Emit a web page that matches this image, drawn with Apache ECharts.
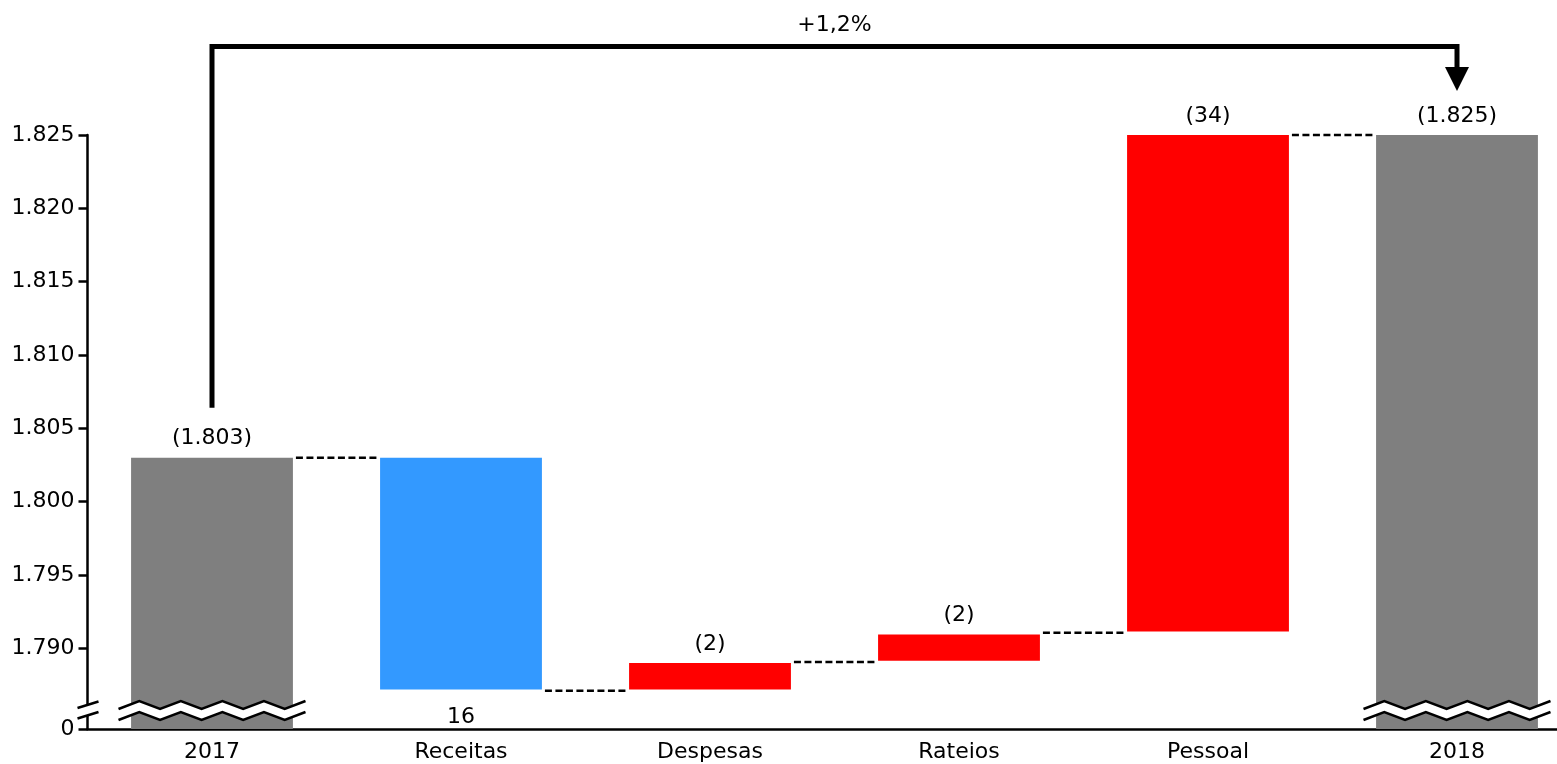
<!DOCTYPE html>
<html>
<head>
<meta charset="utf-8">
<title>Variação 2017 - 2018</title>
<script src="https://cdn.jsdelivr.net/npm/echarts@6/dist/echarts.min.js"></script>
<style>
  html, body { margin: 0; padding: 0; background: #fff; }
  #chartmain { width: 1557px; height: 764px; }
</style>
</head>
<body>
<div id="chartmain"></div>
<script>
// dados (milhares)
var categories = ['2017', 'Receitas', 'Despesas', 'Rateios', 'Pessoal', '2018'];
var barBottom = [0, 1787.2, 1787.2, 1789.15, 1791.15, 0];   // base de cada barra (0 = desde o eixo)
var barTop = [1803, 1803, 1789.0, 1790.95, 1825, 1825];     // topo de cada barra
var barLabels = ['(1.803)', '16', '(2)', '(2)', '(34)', '(1.825)'];
var connectorLevels = [1803, 1787.1, 1789.07, 1791.07, 1825]; // tracejado entre barra i e i+1
var yTicks = [1790, 1795, 1800, 1805, 1810, 1815, 1820, 1825];
var axisFloor = 1784.5; // onde o eixo mostra "0" (eixo quebrado)
var changeLabel = '+1,2%';

// estilo
var barColors = ['#7f7f7f', '#3399ff', '#ff0000', '#ff0000', '#ff0000', '#7f7f7f'];
var labelBelow = [false, true, false, false, false, false];
var FONT = 'DejaVu Sans';
var FONT_SIZE = 22;
var BAR_RATIO = 0.65;

function fmtNum(v) {
    return String(v).replace(/\B(?=(\d{3})+(?!\d))/g, '.');
}

var chart = echarts.init(document.getElementById('chartmain'));

var helperData = barBottom.slice();
var visibleData = barTop.map(function (t, i) {
    return {
        value: t - barBottom[i],
        itemStyle: { color: barColors[i] },
        label: {
            show: true,
            position: labelBelow[i] ? 'bottom' : 'top',
            distance: labelBelow[i] ? 17 : 8,
            formatter: barLabels[i]
        }
    };
});

chart.setOption({
    backgroundColor: '#fff',
    animation: false,
    grid: { left: 87.5, top: 135, width: 1494, bottom: 35, outerBoundsMode: 'none', containLabel: false },
    xAxis: {
        type: 'category',
        data: categories,
        axisLine: { lineStyle: { color: '#000', width: 2.5 } },
        axisTick: { show: false },
        axisLabel: { color: '#000', fontFamily: FONT, fontSize: FONT_SIZE, margin: 12 }
    },
    yAxis: {
        type: 'value',
        min: axisFloor,
        max: 1825,
        splitLine: { show: false },
        axisLine: { show: true, lineStyle: { color: '#000', width: 2.5 } },
        axisTick: {
            show: true, length: 9, customValues: [axisFloor].concat(yTicks),
            lineStyle: { color: '#000', width: 2.5 }
        },
        axisLabel: {
            color: '#000', fontFamily: FONT, fontSize: FONT_SIZE, margin: 13,
            customValues: [axisFloor].concat(yTicks),
            formatter: function (v) { return v === axisFloor ? '0' : fmtNum(v); }
        }
    },
    series: [
        {
            name: 'base',
            type: 'bar',
            stack: 'wf',
            barWidth: (BAR_RATIO * 100) + '%',
            itemStyle: { color: 'transparent' },
            silent: true,
            data: helperData
        },
        {
            name: 'valor',
            type: 'bar',
            stack: 'wf',
            barWidth: (BAR_RATIO * 100) + '%',
            clip: true,
            label: { color: '#000', fontFamily: FONT, fontSize: FONT_SIZE },
            data: visibleData
        },
        {
            name: 'ligacao',
            type: 'custom',
            silent: true,
            data: connectorLevels.map(function (v, i) { return [i, v]; }),
            renderItem: function (params, api) {
                var p = api.coord([api.value(0), api.value(1)]);
                var band = api.size([1, 0])[0];
                var half = band * BAR_RATIO / 2;
                return {
                    type: 'line',
                    shape: { x1: p[0] + half + 3, y1: p[1], x2: p[0] + band - half - 3, y2: p[1] },
                    style: { stroke: '#000', lineWidth: 2.5, lineDash: [7, 3.5] }
                };
            }
        }
    ]
});

// seta de variação e marcas de quebra do eixo
function zigzag(cx, cy, halfW, amp, segs) {
    var pts = [];
    for (var k = 0; k <= segs; k++) {
        pts.push([cx - halfW + k * (2 * halfW / segs), cy + (k % 2 === 0 ? amp : -amp)]);
    }
    return pts;
}

function drawDecor() {
    var first = 0, last = categories.length - 1;
    var p0 = chart.convertToPixel({ gridIndex: 0 }, [first, barTop[first]]);
    var p1 = chart.convertToPixel({ gridIndex: 0 }, [last, barTop[last]]);
    var yFloor = chart.convertToPixel({ yAxisIndex: 0 }, axisFloor);
    var band = chart.convertToPixel({ xAxisIndex: 0 }, categories[1]) - p0[0];
    var ax = p0[0] - band / 2;
    var topY = 46.5;
    var els = [];

    els.push({
        type: 'polyline', z: 100,
        shape: { points: [[p0[0], p0[1] - 50], [p0[0], topY], [p1[0], topY], [p1[0], p1[1] - 66]] },
        style: { stroke: '#000', lineWidth: 5, fill: null, lineJoin: 'miter' }
    });
    els.push({
        type: 'polygon', z: 100,
        shape: { points: [[p1[0] - 12, p1[1] - 68], [p1[0] + 12, p1[1] - 68], [p1[0], p1[1] - 44]] },
        style: { fill: '#000' }
    });
    els.push({
        type: 'text', z: 100,
        x: (p0[0] + p1[0]) / 2, y: 25,
        style: { text: changeLabel, fill: '#000', font: FONT_SIZE + 'px "' + FONT + '"', align: 'center', verticalAlign: 'middle' }
    });

    // quebras nas barras de total
    [first, last].forEach(function (i) {
        var cx = chart.convertToPixel({ xAxisIndex: 0 }, categories[i]);
        var cy = yFloor - 18.5;
        var up = zigzag(cx, cy - 5.5, 93.5, 4, 9);
        var lo = zigzag(cx, cy + 5.5, 93.5, 4, 9);
        els.push({
            type: 'polygon', z: 100,
            shape: { points: up.concat(lo.slice().reverse()) },
            style: { fill: '#fff' }
        });
        els.push({ type: 'polyline', z: 101, shape: { points: up }, style: { stroke: '#000', lineWidth: 2.5, fill: null } });
        els.push({ type: 'polyline', z: 101, shape: { points: lo }, style: { stroke: '#000', lineWidth: 2.5, fill: null } });
    });

    // quebra no eixo y
    var u1 = [ax - 10, yFloor - 21], u2 = [ax + 11, yFloor - 27.5];
    var l1 = [ax - 10, yFloor - 10.5], l2 = [ax + 11, yFloor - 17];
    els.push({ type: 'polygon', z: 100, shape: { points: [u1, u2, l2, l1] }, style: { fill: '#fff' } });
    els.push({ type: 'line', z: 101, shape: { x1: u1[0], y1: u1[1], x2: u2[0], y2: u2[1] }, style: { stroke: '#000', lineWidth: 2.5 } });
    els.push({ type: 'line', z: 101, shape: { x1: l1[0], y1: l1[1], x2: l2[0], y2: l2[1] }, style: { stroke: '#000', lineWidth: 2.5 } });

    chart.setOption({ graphic: { elements: els } });
}

drawDecor();
</script>
</body>
</html>
